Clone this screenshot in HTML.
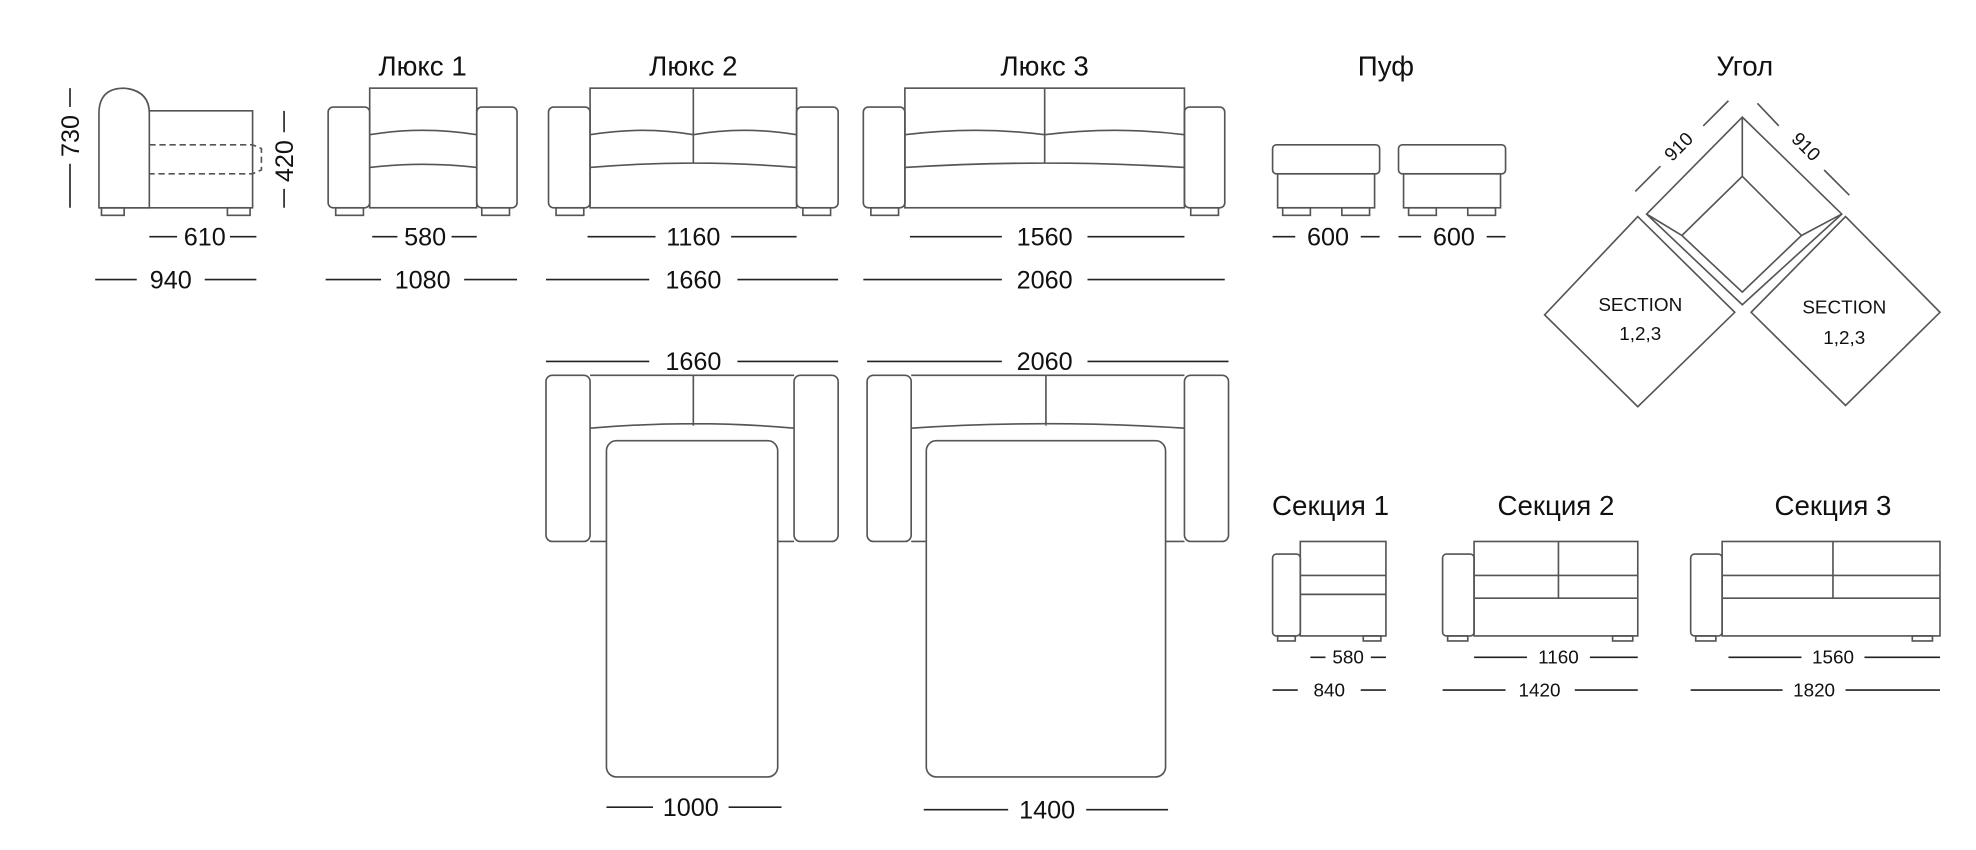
<!DOCTYPE html>
<html><head><meta charset="utf-8"><style>
html,body{margin:0;padding:0;background:#fff;}
svg{display:block;}
text{font-family:"Liberation Sans",sans-serif;fill:#111;text-anchor:middle;}
.t{font-size:22px;}
.d{font-size:20px;}
.s{font-size:15px;}
</style></head><body>
<svg width="1976" height="850" viewBox="0 0 1568 675" xmlns="http://www.w3.org/2000/svg">
<g fill="none" stroke="#555" stroke-width="1.3">
<path d="M78,165 L78,90 Q78,70 98,70 Q118,72 118,90 L118,165 Z"/>
<path d="M118,88 L200,88 L200,165 L78,165"/>
<path d="M118,115 L200,115 L207,118 L207,135 L200,138 L118,138" stroke-dasharray="5,3"/>
<rect x="80" y="165" width="18" height="6"/><rect x="180" y="165" width="18" height="6"/>
<rect x="260" y="85" width="33" height="80" rx="4"/><rect x="378" y="85" width="32" height="80" rx="4"/>
<rect x="293" y="70" width="85" height="95"/>
<path d="M293,107 Q335,100 378,107 M293,133 Q335,128 378,133"/>
<rect x="266" y="165" width="22" height="6"/><rect x="382" y="165" width="22" height="6"/>
<rect x="435" y="85" width="33" height="80" rx="4"/><rect x="632" y="85" width="33" height="80" rx="4"/>
<rect x="468" y="70" width="164" height="95"/>
<path d="M550,70 L550,130 M468,107 Q510,100 550,107 Q590,100 632,107 M468,133 Q550,126 632,133"/>
<rect x="441" y="165" width="22" height="6"/><rect x="637" y="165" width="22" height="6"/>
<rect x="685" y="85" width="33" height="80" rx="4"/><rect x="940" y="85" width="32" height="80" rx="4"/>
<rect x="718" y="70" width="222" height="95"/>
<path d="M829,70 L829,130 M718,107 Q775,100 829,107 Q885,100 940,107 M718,133 Q829,126 940,133"/>
<rect x="691" y="165" width="22" height="6"/><rect x="945" y="165" width="22" height="6"/>
<rect x="1010" y="115" width="85" height="23" rx="3"/><rect x="1014" y="138" width="77" height="27"/>
<rect x="1018" y="165" width="22" height="6"/><rect x="1065" y="165" width="22" height="6"/>
<rect x="1110" y="115" width="85" height="23" rx="3"/><rect x="1114" y="138" width="77" height="27"/>
<rect x="1118" y="165" width="22" height="6"/><rect x="1165" y="165" width="22" height="6"/>
<polygon points="1383,93 1462,170 1383,242 1307,170"/>
<polygon points="1383,140 1430,187 1383,232 1335,187"/>
<path d="M1383,93 L1383,140 M1307,170 L1335,187 M1462,170 L1430,187"/>
<polygon points="1300,172 1377,248 1300,323 1226,250"/>
<polygon points="1465,172 1540,248 1465,322 1390,248"/>
<path d="M1298,152 L1318,132 M1352,100 L1372,80 M1395,82 L1412,100 M1448,135 L1468,155"/>
<rect x="433" y="298" width="35" height="132" rx="5"/><rect x="630" y="298" width="35" height="132" rx="5"/>
<path d="M468,298 L630,298 M468,340 Q550,333 630,340 M550,298 L550,338 M468,430 L481,430 M617,430 L630,430"/>
<rect x="481" y="350" width="136" height="267" rx="8"/>
<rect x="688" y="298" width="35" height="132" rx="5"/><rect x="940" y="298" width="35" height="132" rx="5"/>
<path d="M723,298 L940,298 M723,340 Q830,333 940,340 M830,298 L830,338 M723,430 L735,430 M925,430 L940,430"/>
<rect x="735" y="350" width="190" height="267" rx="8"/>
<rect x="1010" y="440" width="22" height="65" rx="3"/><rect x="1032" y="430" width="68" height="75"/>
<path d="M1032,457 L1100,457 M1032,472 L1100,472"/>
<rect x="1014" y="505" width="14" height="4"/><rect x="1082" y="505" width="14" height="4"/>
<rect x="1145" y="440" width="25" height="65" rx="3"/><rect x="1170" y="430" width="130" height="75"/>
<path d="M1170,457 L1300,457 M1170,475 L1300,475 M1237,430 L1237,475"/>
<rect x="1149" y="505" width="16" height="4"/><rect x="1280" y="505" width="16" height="4"/>
<rect x="1342" y="440" width="25" height="65" rx="3"/><rect x="1367" y="430" width="173" height="75"/>
<path d="M1367,457 L1540,457 M1367,475 L1540,475 M1455,430 L1455,475"/>
<rect x="1346" y="505" width="16" height="4"/><rect x="1518" y="505" width="16" height="4"/>
</g>
<g stroke="#222" stroke-width="1.3">
<path d="M55,70 L55,85 M55,130 L55,165 M225,88 L225,105 M225,150 L225,165"/>
<path d="M118,188 L140,188 M182,188 L203,188 M75,222 L108,222 M162,222 L203,222"/>
<path d="M295,188 L315,188 M358,188 L378,188 M258,222 L302,222 M368,222 L410,222"/>
<path d="M466,188 L520,188 M580,188 L632,188 M433,222 L515,222 M585,222 L665,222"/>
<path d="M722,188 L795,188 M863,188 L940,188 M685,222 L795,222 M863,222 L972,222"/>
<path d="M1010,188 L1028,188 M1080,188 L1095,188 M1110,188 L1128,188 M1180,188 L1195,188"/>
<path d="M433,287 L515,287 M585,287 L665,287 M688,287 L795,287 M863,287 L975,287"/>
<path d="M481,641 L518,641 M578,641 L620,641 M733,643 L800,643 M862,643 L927,643"/>
<path d="M1040,522 L1052,522 M1088,522 L1100,522 M1010,548 L1030,548 M1080,548 L1100,548"/>
<path d="M1170,522 L1212,522 M1262,522 L1300,522 M1145,548 L1195,548 M1250,548 L1300,548"/>
<path d="M1372,522 L1430,522 M1480,522 L1540,522 M1342,548 L1415,548 M1465,548 L1540,548"/>
</g>
<text class="t" x="335" y="60">Люкс 1</text>
<text class="t" x="550" y="60">Люкс 2</text>
<text class="t" x="829" y="60">Люкс 3</text>
<text class="t" x="1100" y="60">Пуф</text>
<text class="t" x="1385" y="60">Угол</text>
<text class="d" transform="translate(62,108) rotate(-90)">730</text>
<text class="d" transform="translate(232,128) rotate(-90)">420</text>
<text class="d" x="162" y="195">610</text>
<text class="d" x="135" y="229">940</text>
<text class="d" x="337" y="195">580</text>
<text class="d" x="335" y="229">1080</text>
<text class="d" x="550" y="195">1160</text>
<text class="d" x="550" y="229">1660</text>
<text class="d" x="829" y="195">1560</text>
<text class="d" x="829" y="229">2060</text>
<text class="d" x="1054" y="195">600</text>
<text class="d" x="1154" y="195">600</text>
<text class="s" transform="translate(1336,120) rotate(-45)">910</text>
<text class="s" transform="translate(1430,120) rotate(45)">910</text>
<text class="s" x="1302" y="247">SECTION</text>
<text class="s" x="1302" y="270">1,2,3</text>
<text class="s" x="1464" y="249">SECTION</text>
<text class="s" x="1464" y="273">1,2,3</text>
<text class="d" x="550" y="294">1660</text>
<text class="d" x="829" y="294">2060</text>
<text class="d" x="548" y="648">1000</text>
<text class="d" x="831" y="650">1400</text>
<text class="t" x="1056" y="409">Секция 1</text>
<text class="t" x="1235" y="409">Секция 2</text>
<text class="t" x="1455" y="409">Секция 3</text>
<text class="s" x="1070" y="527">580</text>
<text class="s" x="1055" y="553">840</text>
<text class="s" x="1237" y="527">1160</text>
<text class="s" x="1222" y="553">1420</text>
<text class="s" x="1455" y="527">1560</text>
<text class="s" x="1440" y="553">1820</text>
</svg>
</body></html>
